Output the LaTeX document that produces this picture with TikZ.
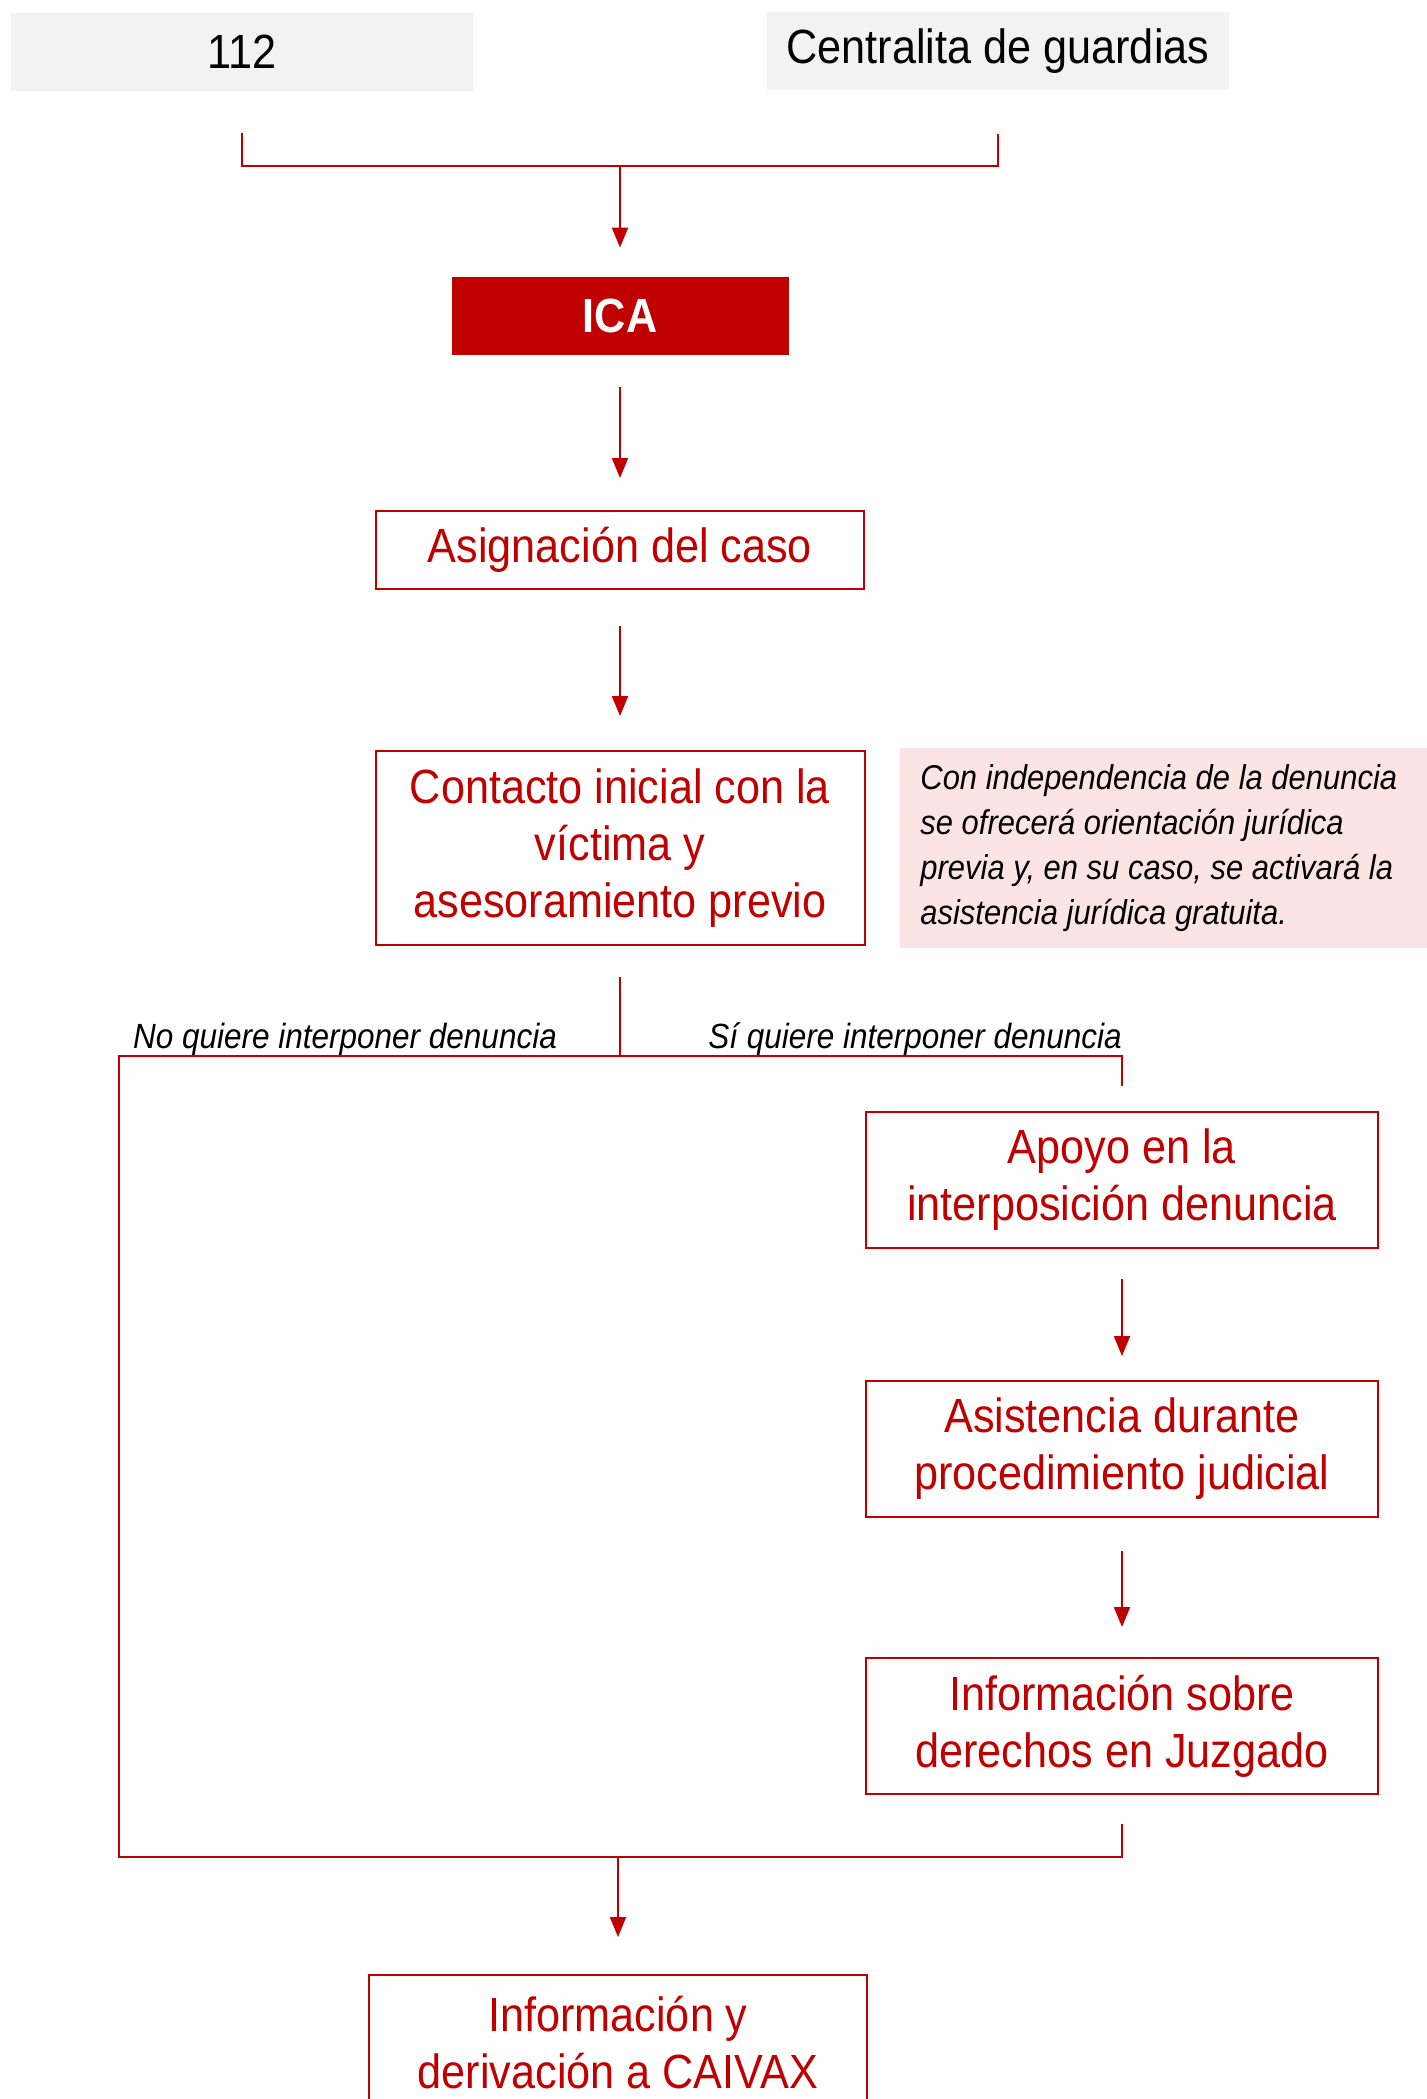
\documentclass[tikz,border=0pt]{standalone}
\usepackage{fontspec}
\setmainfont{Liberation Sans}[FakeStretch=0.9]
\usetikzlibrary{arrows.meta}
\definecolor{icared}{HTML}{C00000}
\definecolor{boxgray}{HTML}{F2F2F2}
\definecolor{notepink}{HTML}{FDE4E4}

\begin{document}
\begin{tikzpicture}[
  x=0.5pt,
  y=-0.5pt,
  graybox/.style={rectangle,fill=boxgray,minimum width=231pt,minimum height=39pt,font=\fontsize{24}{28.5}\selectfont},
  redbox/.style={rectangle,draw=icared,line width=1pt,text=icared,align=center,minimum width=256pt,minimum height=68pt,font=\fontsize{24}{28.5}\selectfont},
  link/.style={draw=icared,line width=1pt},
  arrowlink/.style={link,-{Triangle[length=10pt,width=8pt]}},
  choice/.style={anchor=base,font=\fontsize{17.5}{21}\selectfont\itshape},
]
\useasboundingbox (0,0) rectangle (1427,2099);

\node[graybox] (n112) at (242,52) {112};
\node[graybox] (central) at (998,51) {Centralita de guardias};
\node[rectangle,fill=icared,text=white,minimum width=168.5pt,minimum height=39pt,font=\fontsize{24}{28.5}\selectfont\bfseries] (ica) at (620,316) {ICA};
\node[redbox,minimum width=244pt,minimum height=39pt] (asign) at (620,550) {Asignación del caso};
\node[redbox,minimum width=244.5pt,minimum height=97pt] (contacto) at (620,848) {Contacto inicial con la\\víctima y\\asesoramiento previo};
\node[anchor=west,fill=notepink,text width=252pt,align=flush left,inner xsep=10pt,minimum height=100pt,font=\fontsize{17.2}{22.5}\selectfont\itshape] (nota) at (900,848) {Con independencia de la denuncia\\se ofrecerá orientación jurídica\\previa y, en su caso, se activará la\\asistencia jurídica gratuita.};

\node[redbox] (apoyo) at (1122,1180) {Apoyo en la\\interposición denuncia};
\node[redbox] (asist) at (1122,1449) {Asistencia durante\\procedimiento judicial};
\node[redbox] (infoder) at (1122,1726) {Información sobre\\derechos en Juzgado};
\node[redbox,minimum width=249pt,anchor=north] (final) at (618,1974) {Información y\\derivación a CAIVAX};

\node[choice] (nolabel) at (345,1048) {No quiere interponer denuncia};
\node[choice] (silabel) at (915,1048) {Sí quiere interponer denuncia};

\coordinate (topjoin) at (620,166);
\coordinate (splitL) at (119,1056);
\coordinate (splitR) at (1122,1056);
\coordinate (mergeL) at (119,1857);
\coordinate (mergeR) at (1122,1857);
\coordinate (merge) at (618,1857);

\draw[link] ([yshift=-21pt]n112.south) |- (topjoin) -| ([yshift=-22pt]central.south);
\draw[arrowlink] (topjoin) -- ([yshift=14.5pt]ica.north);
\draw[arrowlink] ([yshift=-16pt]ica.south) -- ([yshift=16pt]asign.north);
\draw[arrowlink] ([yshift=-18pt]asign.south) -- ([yshift=17pt]contacto.north);
\draw[link] ([yshift=-15.5pt]contacto.south) -- (contacto.south |- splitL);
\draw[link] ([yshift=12.5pt]apoyo.north) -- (splitR) -- (splitL) -- (mergeL) -- (mergeR) -- ([yshift=-14.5pt]infoder.south);
\draw[arrowlink] ([yshift=-15pt]apoyo.south) -- ([yshift=12pt]asist.north);
\draw[arrowlink] ([yshift=-16.5pt]asist.south) -- ([yshift=15pt]infoder.north);
\draw[arrowlink] (merge) -- ([yshift=18.5pt]final.north);
\end{tikzpicture}
\end{document}
